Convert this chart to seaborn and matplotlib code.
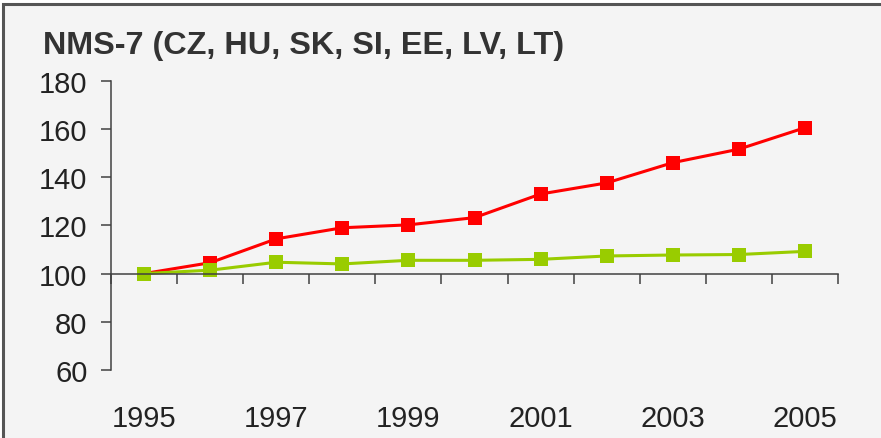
import matplotlib
matplotlib.use("Agg")
import matplotlib.pyplot as plt
import matplotlib.patches as mpatches
from matplotlib.ticker import FixedLocator
import seaborn as sns
import pandas as pd

years = [1995, 1996, 1997, 1998, 1999, 2000, 2001, 2002, 2003, 2004, 2005]
series_red = [100, 104.5, 114.4, 119.0, 120.2, 123.2, 133.0, 137.6, 146.0, 151.6, 160.5]
series_green = [100, 101.4, 104.7, 104.0, 105.5, 105.5, 105.9, 107.3, 107.7, 107.9, 109.2]
year_labels = ["1995", "1997", "1999", "2001", "2003", "2005"]
title_text = "NMS-7 (CZ, HU, SK, SI, EE, LV, LT)"

df = pd.DataFrame({
    "year": years * 2,
    "value": series_red + series_green,
    "series": ["red"] * len(years) + ["green"] * len(years),
})

sns.set_style("white")
plt.rcParams["font.family"] = ["Liberation Sans", "DejaVu Sans"]

fig = plt.figure(figsize=(8.81, 4.39), dpi=100, facecolor="white")
# framed panel
fig.patches.append(mpatches.Rectangle((3 / 881, -0.05), 1.1, 1.05 - 5 / 439,
                                      transform=fig.transFigure, facecolor="#f4f4f4",
                                      edgecolor="#555555", linewidth=2.2, zorder=-5))

ax = fig.add_axes([111 / 881, 1 - 371 / 439, 727 / 881, (371 - 81.7) / 439])
ax.set_zorder(2)
ax.set_facecolor("none")

sns.lineplot(data=df, x="year", y="value", hue="series",
             palette={"red": "#ff0000", "green": "#99cc00"},
             hue_order=["red", "green"], marker="s", markersize=9.5,
             markeredgewidth=0, linewidth=2.2, legend=False, ax=ax)

ax.set_xlim(years[0] - 0.5, years[-1] + 0.5)
ax.set_ylim(60, 180)
ax.set_yticks([60, 80, 100, 120, 140, 160, 180])
ax.set_xlabel("")
ax.set_ylabel("")

for s in ["top", "right"]:
    ax.spines[s].set_visible(False)
ax.spines["left"].set_color("#404040")
ax.spines["left"].set_linewidth(1.1)
ax.spines["bottom"].set_position(("data", 100))
ax.spines["bottom"].set_color("#404040")
ax.spines["bottom"].set_linewidth(1.1)

ax.xaxis.set_major_locator(FixedLocator([int(y) for y in year_labels]))
ax.set_xticklabels(year_labels)
ax.xaxis.set_minor_locator(FixedLocator([y - 0.5 for y in years] + [years[-1] + 0.5]))
ax.tick_params(axis="x", which="both", bottom=True)
ax.tick_params(axis="x", which="major", length=0, pad=94, labelsize=21, labelcolor="#222222")
ax.tick_params(axis="x", which="minor", length=7, width=1.1, color="#404040", direction="out")
ax.tick_params(axis="y", left=True, length=7, width=1.1, color="#404040", pad=10, labelsize=21,
               labelcolor="#222222", direction="out")

fig.text(43 / 881, 1 - 54 / 439, title_text, fontsize=23.3, fontweight="bold",
         color="#333333", ha="left", va="baseline")

fig.savefig("out.png", dpi=100, facecolor="white")
